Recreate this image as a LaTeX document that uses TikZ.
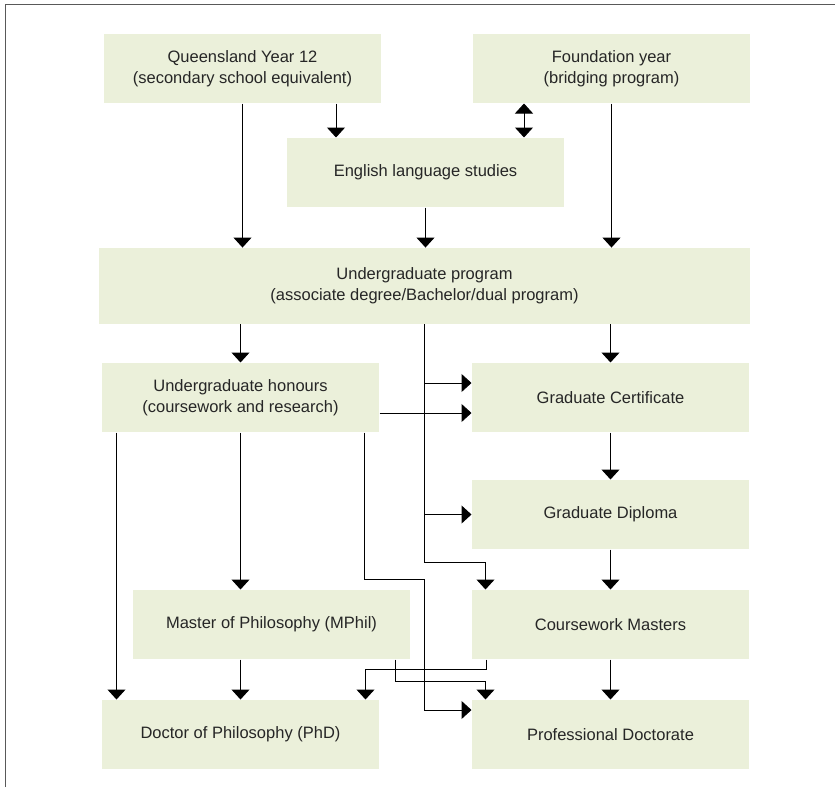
\documentclass[tikz,border=0pt]{standalone}
\usepackage{fontspec}
\setmainfont{Liberation Sans}
\usepackage{tikz}
\usetikzlibrary{arrows.meta}
\tikzset{>={Triangle[width=18pt,length=10pt]}}
\definecolor{boxfill}{RGB}{235,240,218}

\begin{document}
\begin{tikzpicture}[x=1pt,y=-1pt,line width=1pt]
      \tikzstyle{stage}=[fill=boxfill,minimum width=277pt,minimum height=69pt,inner sep=0pt,align=center,text=black!85,font=\fontsize{16.5}{21}\selectfont];
      \useasboundingbox (0,0) rectangle (835,787);
      \draw[black!65] (5.5,787)--(5.5,4)--(835,4);

      \node[stage] (q12) at (242.5,68.5) {Queensland Year 12\\(secondary school equivalent)};
      \node[stage] (found) at (611.5,68.5) {Foundation year\\(bridging program)};
      \node[stage] (eng) at (425.5,172.5) {English language studies};
      \node[stage,minimum width=651pt,minimum height=75.5pt] (ugp) at (424.5,285.8) {Undergraduate program\\(associate degree/Bachelor/dual program)};
      \node[stage] (hons) at (240.5,397.5) {Undergraduate honours\\(coursework and research)};
      \node[stage] (gcert) at (610.5,397.5) {Graduate Certificate};
      \node[stage] (gdip) at (610.5,514.5) {Graduate Diploma};
      \node[stage] (mphil) at (271.5,624.5) {Master of Philosophy (MPhil)};
      \node[stage] (cwm) at (610.5,624.5) {Coursework Masters};
      \node[stage] (phd) at (240.5,734.5) {Doctor of Philosophy (PhD)};
      \node[stage] (pdoc) at (610.5,734.5) {Professional Doctorate};

      % entry
      \coordinate (q12r) at ([xshift=93.5pt]q12.south);
      \coordinate (fl) at ([xshift=-87.5pt]found.south);
      \draw[->] (q12.south)--(q12.south |- ugp.north);
      \draw[->] (q12r)--(q12r |- eng.north);
      \draw[<->] (fl)--(fl |- eng.north);
      \draw[->] (found.south)--(found.south |- ugp.north);
      \draw[->] (eng.south)--(eng.south |- ugp.north);

      % undergraduate
      \coordinate (cwin) at ([xshift=14pt]cwm.north west);
      \coordinate (gcin) at ([yshift=14.5pt]gcert.west);
      \coordinate (hsout) at ([yshift=-15.5pt]hons.east);
      \draw[->] (hons.north |- ugp.south)--(hons.north);
      \draw[->] (gcert.north |- ugp.south)--(gcert.north);
      \draw[->] (ugp.south) |- ([yshift=27pt]cwin)--(cwin);
      \draw[->] (gcin -| ugp.south)--(gcin);
      \draw[->] (gdip.west -| ugp.south)--(gdip.west);
      \draw[->] (hsout)--(hsout -| gcert.west);

      % honours
      \coordinate (hsdown) at ([xshift=-15pt]hons.south east);
      \coordinate (pdin) at ([yshift=24.5pt]pdoc.west);
      \draw[->] ([xshift=15pt]hons.south west)--([xshift=15pt]phd.north west);
      \draw[->] (hons.south)--(hons.south |- mphil.north);
      \draw[->] (hsdown)--++(0,-147pt) -| (pdin -| ugp.south)--(pdin);

      % postgraduate
      \coordinate (mpout) at ([xshift=-15pt]mphil.south east);
      \coordinate (pdtop) at ([xshift=14pt]pdoc.north west);
      \coordinate (cwout) at ([xshift=15pt]cwm.south west);
      \coordinate (phdtop) at ([xshift=-14pt]phd.north east);
      \draw[->] (gcert.south)--(gdip.north);
      \draw[->] (gdip.south)--(cwm.north);
      \draw[->] (cwm.south)--(pdoc.north);
      \draw[->] (phd.north |- mphil.south)--(phd.north);
      \draw[->] (mpout)--++(0,-22pt) -| (pdtop);
      \draw[->] (cwout)--++(0,-10pt) -| (phdtop);
    \end{tikzpicture}
\end{document}
